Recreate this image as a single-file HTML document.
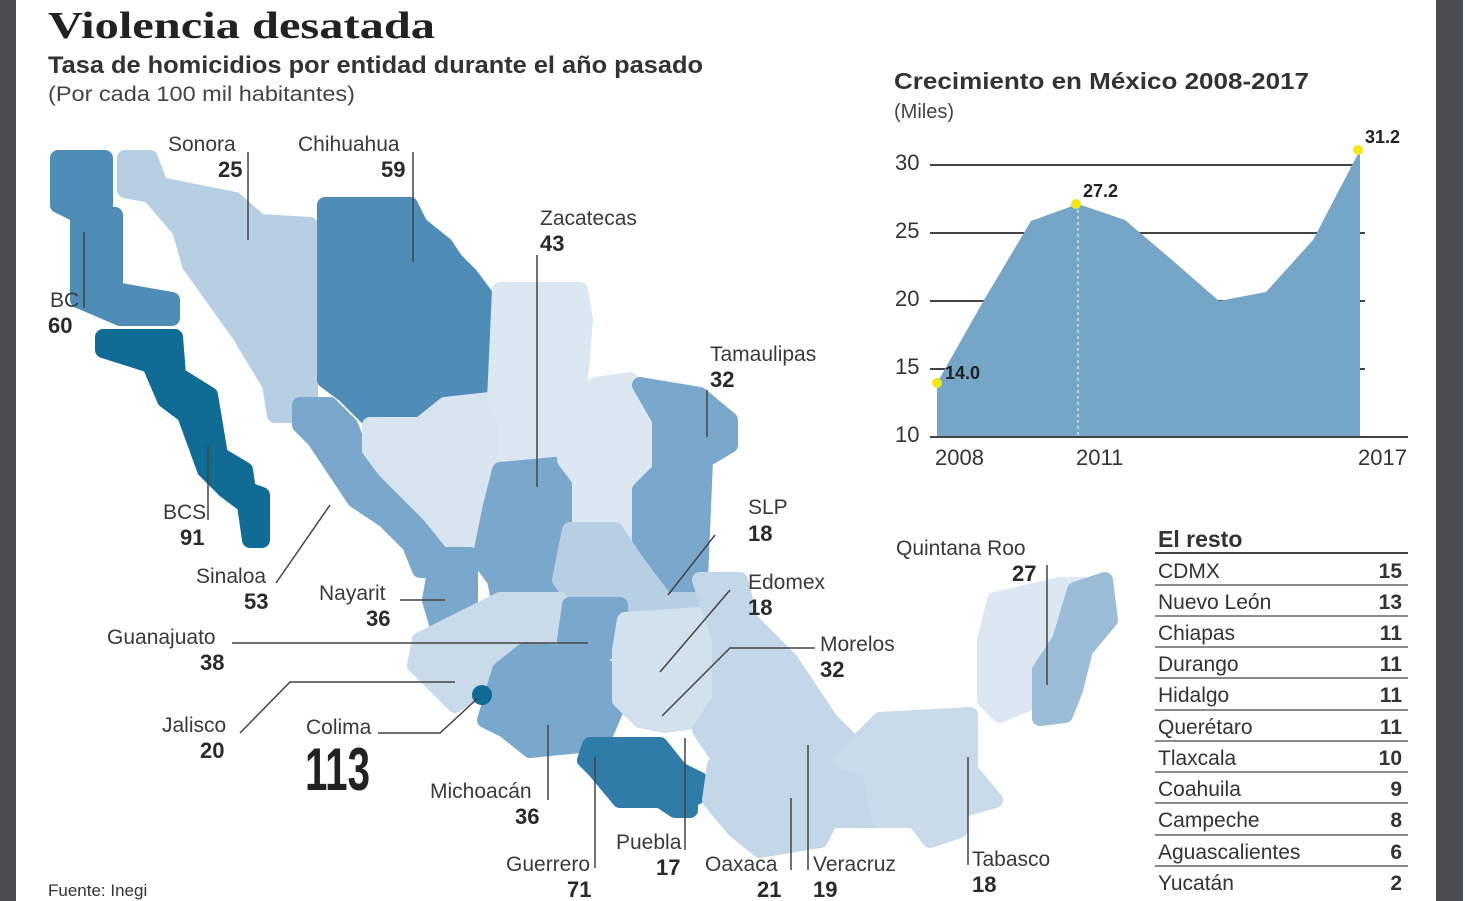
<!DOCTYPE html>
<html><head><meta charset="utf-8"><style>
html,body{margin:0;padding:0;background:#fff}
svg{display:block}
text{font-family:"Liberation Sans",sans-serif;fill:#333}
.l{font-size:21px;fill:#3a3a3a}
.n{font-size:22px;font-weight:bold;fill:#2a2a2a}
.ln{stroke:#444;stroke-width:1.5;fill:none}
.m polygon{stroke-linejoin:round;stroke-width:16}
</style></head><body>
<svg width="1465" height="901" viewBox="0 0 1465 901">
<rect x="0" y="0" width="16" height="901" fill="#4a4d50"/>
<rect x="1436" y="0" width="27" height="901" fill="#4a4d50"/>
<text x="48" y="38" style="font-family:'Liberation Serif',serif;font-size:38px;font-weight:bold;fill:#222" textLength="387" lengthAdjust="spacingAndGlyphs">Violencia desatada</text>
<text x="48" y="73" style="font-size:24px;font-weight:bold;fill:#333" textLength="655" lengthAdjust="spacingAndGlyphs">Tasa de homicidios por entidad durante el año pasado</text>
<text x="48" y="101" style="font-size:21px;fill:#444" textLength="307" lengthAdjust="spacingAndGlyphs">(Por cada 100 mil habitantes)</text>

<g class="m">
<polygon fill="#4f8db8" stroke="#4f8db8" points="58,158 105,158 105,215 115,215 115,290 172,300 172,318 120,318 78,300 78,215 58,205"/>
<polygon fill="#106b95" stroke="#106b95" points="103,337 175,337 178,375 210,395 220,455 245,470 248,490 262,495 262,540 250,540 245,505 225,490 205,470 185,415 165,400 150,365 103,350"/>
<polygon fill="#b7cfe3" stroke="#b7cfe3" points="125,158 150,158 160,185 235,200 260,222 310,225 310,415 275,415 270,385 240,335 215,300 190,265 180,230 150,195 125,190"/>
<polygon fill="#4f8db8" stroke="#4f8db8" points="325,205 410,205 420,225 445,245 455,260 470,275 485,295 485,385 470,390 440,400 415,420 395,425 370,420 345,395 325,380"/>
<polygon fill="#7aa8cc" stroke="#7aa8cc" points="300,405 330,405 350,425 360,450 385,475 410,490 420,515 440,540 440,570 420,570 410,545 385,520 355,500 335,470 315,440 300,425"/>
<polygon fill="#d8e5f0" stroke="#d8e5f0" points="370,425 420,425 445,405 490,400 505,420 500,460 490,470 480,560 470,560 450,540 430,515 405,490 385,470 370,450"/>
<polygon fill="#dce7f1" stroke="#dce7f1" points="500,290 580,290 585,320 580,380 560,400 560,460 535,465 505,460 505,420 495,400"/>
<polygon fill="#7aa8cc" stroke="#7aa8cc" points="500,470 555,465 570,480 570,520 555,530 555,605 500,605 495,580 480,560 490,510"/>
<polygon fill="#dce7f1" stroke="#dce7f1" points="595,385 630,380 650,400 650,465 625,490 625,555 595,560 580,520 580,480 565,460 570,410"/>
<polygon fill="#7aa8cc" stroke="#7aa8cc" points="640,385 700,395 730,420 730,445 705,460 700,580 670,600 640,570 640,490 660,470 660,420"/>
<polygon fill="#b7cfe3" stroke="#b7cfe3" points="570,530 615,530 635,560 665,600 700,600 700,620 665,620 630,620 600,605 575,600 560,580"/>
<polygon fill="#7aa8cc" stroke="#7aa8cc" points="438,555 470,555 470,635 440,635 430,600"/>
<polygon fill="#c9dbea" stroke="#c9dbea" points="420,640 500,600 560,600 560,640 530,660 500,660 480,690 455,705 440,690 415,665"/>
<polygon fill="#7aa8cc" stroke="#7aa8cc" points="570,605 620,605 620,650 580,655 565,640"/>
<polygon fill="#7aa8cc" stroke="#7aa8cc" points="500,670 525,650 590,655 610,670 620,700 605,735 580,745 530,750 505,730 485,720"/>
<polygon fill="#d2e1ee" stroke="#d2e1ee" points="625,620 700,615 720,640 720,700 700,720 665,725 640,720 620,700 620,650"/>
<polygon fill="#c4d7e8" stroke="#c4d7e8" points="700,580 740,580 750,620 790,660 830,720 860,750 870,790 800,790 770,760 720,760 700,730 720,700 720,640"/>
<polygon fill="#2f7ca8" stroke="#2f7ca8" points="590,745 660,745 680,770 700,780 710,790 690,800 690,810 675,810 660,800 620,800 595,770 585,760"/>
<polygon fill="#c4d7e8" stroke="#c4d7e8" points="715,765 770,765 800,795 870,795 875,820 830,820 820,840 760,850 735,830 710,800"/>
<polygon fill="#c9dbea" stroke="#c9dbea" points="840,760 880,720 970,715 970,770 995,800 960,810 960,830 930,840 915,820 880,820 875,800 870,770"/>
<polygon fill="#dce7f1" stroke="#dce7f1" points="995,600 1060,585 1090,585 1090,620 1060,620 1050,660 1035,700 1000,715 985,700 985,640"/>
<polygon fill="#9bbdd8" stroke="#9bbdd8" points="1075,590 1105,580 1110,620 1085,650 1075,690 1065,715 1040,718 1040,670 1060,640"/>
</g>
<circle cx="482" cy="695" r="10" fill="#0f6a94"/>

<g>
<polyline class="ln" points="248,152 248,240"/>
<polyline class="ln" points="413,152 413,262"/>
<polyline class="ln" points="84,232 84,308"/>
<polyline class="ln" points="208,445 208,520"/>
<polyline class="ln" points="276,583 330,505"/>
<polyline class="ln" points="537,255 537,487"/>
<polyline class="ln" points="707,390 707,437"/>
<polyline class="ln" points="400,600 445,600"/>
<polyline class="ln" points="232,643 588,643"/>
<polyline class="ln" points="240,733 290,682 455,682"/>
<polyline class="ln" points="378,733 440,733 478,698"/>
<polyline class="ln" points="668,595 715,535"/>
<polyline class="ln" points="660,672 730,590"/>
<polyline class="ln" points="662,716 730,648 815,648"/>
<polyline class="ln" points="548,725 548,800"/>
<polyline class="ln" points="595,757 595,868"/>
<polyline class="ln" points="685,738 685,850"/>
<polyline class="ln" points="791,798 791,870"/>
<polyline class="ln" points="808,745 808,870"/>
<polyline class="ln" points="968,757 968,865"/>
<polyline class="ln" points="1047,565 1047,685"/>
</g>

<text class="l" x="168" y="151">Sonora</text><text class="n" x="218" y="177">25</text>
<text class="l" x="298" y="151">Chihuahua</text><text class="n" x="381" y="177">59</text>
<text class="l" x="50" y="307">BC</text><text class="n" x="48" y="333">60</text>
<text class="l" x="163" y="519">BCS</text><text class="n" x="180" y="545">91</text>
<text class="l" x="196" y="583">Sinaloa</text><text class="n" x="244" y="609">53</text>
<text class="l" x="540" y="225">Zacatecas</text><text class="n" x="540" y="251">43</text>
<text class="l" x="710" y="361">Tamaulipas</text><text class="n" x="710" y="387">32</text>
<text class="l" x="319" y="600">Nayarit</text><text class="n" x="366" y="626">36</text>
<text class="l" x="107" y="644">Guanajuato</text><text class="n" x="200" y="670">38</text>
<text class="l" x="162" y="732">Jalisco</text><text class="n" x="200" y="758">20</text>
<text class="l" x="306" y="734">Colima</text>
<text x="305" y="790" style="font-size:60px;font-weight:bold;fill:#222" textLength="65" lengthAdjust="spacingAndGlyphs">113</text>
<text class="l" x="748" y="514">SLP</text><text class="n" x="748" y="541">18</text>
<text class="l" x="748" y="589">Edomex</text><text class="n" x="748" y="615">18</text>
<text class="l" x="820" y="651">Morelos</text><text class="n" x="820" y="677">32</text>
<text class="l" x="430" y="798">Michoacán</text><text class="n" x="515" y="824">36</text>
<text class="l" x="506" y="871">Guerrero</text><text class="n" x="567" y="897">71</text>
<text class="l" x="616" y="849">Puebla</text><text class="n" x="656" y="875">17</text>
<text class="l" x="705" y="871">Oaxaca</text><text class="n" x="757" y="897">21</text>
<text class="l" x="813" y="871">Veracruz</text><text class="n" x="813" y="897">19</text>
<text class="l" x="972" y="866">Tabasco</text><text class="n" x="972" y="892">18</text>
<text class="l" x="896" y="555">Quintana Roo</text><text class="n" x="1012" y="581">27</text>
<text x="48" y="896" style="font-size:17px;fill:#333">Fuente: Inegi</text>

<text x="894" y="89" style="font-size:23px;font-weight:bold;fill:#333" textLength="415" lengthAdjust="spacingAndGlyphs">Crecimiento en México 2008-2017</text>
<text x="894" y="118" style="font-size:20px;fill:#444">(Miles)</text>
<g stroke="#444" stroke-width="2">
<line x1="930" y1="165" x2="1360" y2="165"/>
<line x1="930" y1="233" x2="1365" y2="233"/>
<line x1="930" y1="301" x2="1365" y2="301"/>
<line x1="930" y1="369" x2="1365" y2="369"/>
</g>
<polygon fill="#75a5c7" points="937,437 937,383 984,300 1031,221 1078,204 1125,220 1172,260 1219,301 1266,292 1313,240 1360,150 1360,437"/>
<line x1="1078" y1="204" x2="1078" y2="437" stroke="#fff" stroke-width="1" stroke-dasharray="3,3"/>
<line x1="930" y1="437" x2="1408" y2="437" stroke="#444" stroke-width="2"/>
<g style="font-size:22px">
<text x="895" y="170">30</text><text x="895" y="238">25</text><text x="895" y="306">20</text><text x="895" y="374">15</text><text x="895" y="442">10</text>
<text x="935" y="465">2008</text><text x="1076" y="465">2011</text><text x="1358" y="465">2017</text>
</g>
<circle cx="937" cy="383" r="5" fill="#f2e51a"/>
<circle cx="1076" cy="204" r="5" fill="#f2e51a"/>
<circle cx="1358" cy="150" r="5" fill="#f2e51a"/>
<g style="font-size:18px;font-weight:bold">
<text x="945" y="379" style="fill:#222">14.0</text>
<text x="1083" y="197" style="fill:#222">27.2</text>
<text x="1365" y="143" style="fill:#222">31.2</text>
</g>

<text x="1158" y="547" style="font-size:23px;font-weight:bold;fill:#333">El resto</text>
<line x1="1155" y1="553" x2="1408" y2="553" stroke="#444" stroke-width="2"/>
<g style="font-size:21px">
<text x="1158" y="578">CDMX</text><text x="1402" y="578" text-anchor="end" font-weight="bold">15</text>
<text x="1158" y="609">Nuevo León</text><text x="1402" y="609" text-anchor="end" font-weight="bold">13</text>
<text x="1158" y="640">Chiapas</text><text x="1402" y="640" text-anchor="end" font-weight="bold">11</text>
<text x="1158" y="671">Durango</text><text x="1402" y="671" text-anchor="end" font-weight="bold">11</text>
<text x="1158" y="702">Hidalgo</text><text x="1402" y="702" text-anchor="end" font-weight="bold">11</text>
<text x="1158" y="734">Querétaro</text><text x="1402" y="734" text-anchor="end" font-weight="bold">11</text>
<text x="1158" y="765">Tlaxcala</text><text x="1402" y="765" text-anchor="end" font-weight="bold">10</text>
<text x="1158" y="796">Coahuila</text><text x="1402" y="796" text-anchor="end" font-weight="bold">9</text>
<text x="1158" y="827">Campeche</text><text x="1402" y="827" text-anchor="end" font-weight="bold">8</text>
<text x="1158" y="859">Aguascalientes</text><text x="1402" y="859" text-anchor="end" font-weight="bold">6</text>
<text x="1158" y="890">Yucatán</text><text x="1402" y="890" text-anchor="end" font-weight="bold">2</text>
</g>
<g stroke="#666" stroke-width="1.5">
<line x1="1155" y1="585" x2="1408" y2="585"/><line x1="1155" y1="616" x2="1408" y2="616"/>
<line x1="1155" y1="647" x2="1408" y2="647"/><line x1="1155" y1="678" x2="1408" y2="678"/>
<line x1="1155" y1="710" x2="1408" y2="710"/><line x1="1155" y1="741" x2="1408" y2="741"/>
<line x1="1155" y1="772" x2="1408" y2="772"/><line x1="1155" y1="803" x2="1408" y2="803"/>
<line x1="1155" y1="835" x2="1408" y2="835"/><line x1="1155" y1="866" x2="1408" y2="866"/>
</g>
</svg>
</body></html>
